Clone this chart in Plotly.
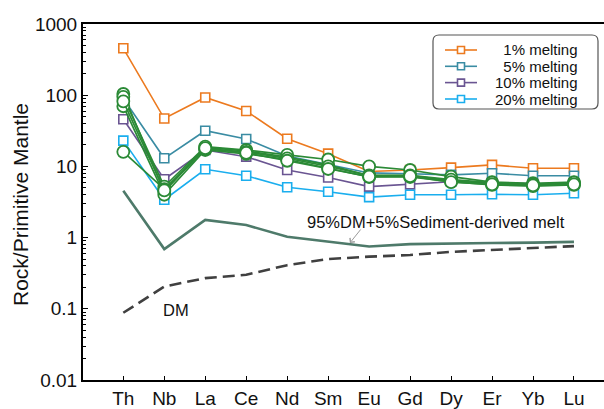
import numpy as np
import plotly.graph_objects as go

# Trace elements along the x axis
elements = ["Th", "Nb", "La", "Ce", "Nd", "Sm", "Eu", "Gd", "Dy", "Er", "Yb", "Lu"]

# Modelled melts (normalised to primitive mantle)
melt_1 = [456, 47, 93, 60, 24.5, 15.1, 8.5, 8.9, 9.6, 10.5, 9.4, 9.4]
melt_5 = [90, 13, 31.7, 24.3, 14, 10.6, 8.1, 7.9, 7.6, 8.0, 7.4, 7.4]
melt_10 = [46, 6.6, 17, 13.7, 8.9, 7.0, 5.2, 5.6, 6.1, 5.9, 5.7, 5.8]
melt_20 = [23, 3.4, 9.1, 7.4, 5.1, 4.4, 3.7, 4.0, 4.0, 4.06, 4.0, 4.2]

# Samples
sample_a = [104, 4.4, 18.5, 16.5, 13.5, 10.5, 7.4, 7.4, 6.3, 5.7, 5.5, 5.7]
sample_b = [95, 5.2, 19, 17, 14.5, 12.5, 10.0, 8.9, 7.2, 6.0, 5.8, 6.0]
sample_c = [70, 4.0, 17, 15, 12.5, 9.5, 7.1, 7.1, 6.1, 5.5, 5.3, 5.5]
sample_d = [16, 4.8, 17.5, 16, 13, 10, 7.5, 7.5, 6.5, 5.9, 5.6, 5.9]
sample_e = [82, 4.6, 18, 15.5, 12, 9.2, 7.2, 7.3, 6.0, 5.6, 5.4, 5.6]

# Depleted mantle and the DM + sediment-melt mixture
dm = [0.088, 0.205, 0.27, 0.30, 0.41, 0.50, 0.54, 0.57, 0.63, 0.67, 0.72, 0.76]
dm_sed_mix = [4.56, 0.69, 1.77, 1.5, 1.03, 0.88, 0.75, 0.81, 0.83, 0.84, 0.85, 0.87]

y_tick_vals = [0.01, 0.1, 1, 10, 100, 1000]
y_tick_text = ["0.01", "0.1", "1", "10", "100", "1000"]

FONT = "Liberation Sans, Arial, sans-serif"

melt_series = [
    ("\u20071% melting", melt_1, "#EC7A1F"),
    ("\u20075% melting", melt_5, "#3A8CA3"),
    ("10% melting", melt_10, "#6A5592"),
    ("20% melting", melt_20, "#1AAEEE"),
]
samples = [sample_a, sample_b, sample_c, sample_d, sample_e]
GREEN = "#2B8A36"

fig = go.Figure()

fig.add_trace(go.Scatter(x=elements, y=dm, mode="lines",
                         line=dict(color="#404040", width=2.6, dash="12px,6px"),
                         showlegend=False))
fig.add_trace(go.Scatter(x=elements, y=dm_sed_mix, mode="lines",
                         line=dict(color="#4E7A6A", width=2.6),
                         showlegend=False))

for name, vals, col in melt_series:
    fig.add_trace(go.Scatter(x=elements, y=vals, mode="lines+markers", name=name,
                             line=dict(color=col, width=1.6),
                             marker=dict(symbol="square", size=9, color="white",
                                         line=dict(color=col, width=1.6)),
                             showlegend=False))

for vals in samples:
    fig.add_trace(go.Scatter(x=elements, y=vals, mode="lines+markers",
                             line=dict(color=GREEN, width=1.7),
                             marker=dict(symbol="circle", size=12, color="white",
                                         line=dict(color=GREEN, width=1.8)),
                             showlegend=False))

# plot area in pixels: x 83..604, y 24..380
L, R, T, B = 83, 604, 24, 380
W, H = 604, 409


def px(x):
    return (x - L) / (R - L)


def py(y):
    return (B - y) / (B - T)


shapes = []
annotations = []

# legend box with rounded corners
bx0, bx1, by0, by1, rr = px(433), px(598), py(35), py(109), 6
rx, ry = rr / (R - L), rr / (B - T)
path = (f"M{bx0 + rx},{by0} L{bx1 - rx},{by0} Q{bx1},{by0} {bx1},{by0 - ry} "
        f"L{bx1},{by1 + ry} Q{bx1},{by1} {bx1 - rx},{by1} L{bx0 + rx},{by1} "
        f"Q{bx0},{by1} {bx0},{by1 + ry} L{bx0},{by0 - ry} Q{bx0},{by0} {bx0 + rx},{by0} Z")
shapes.append(dict(type="path", path=path, xref="paper", yref="paper",
                   line=dict(color="#555555", width=1.2), fillcolor="white", layer="above"))

row_y = [50, 66.3, 82.6, 99]
for (name, _, col), ry_ in zip(melt_series, row_y):
    shapes.append(dict(type="line", xref="paper", yref="paper",
                       x0=px(445), x1=px(477), y0=py(ry_), y1=py(ry_),
                       line=dict(color=col, width=1.6), layer="above"))
    shapes.append(dict(type="rect", xref="paper", yref="paper",
                       xsizemode="pixel", ysizemode="pixel",
                       xanchor=px(461), yanchor=py(ry_),
                       x0=-3.5, x1=3.5, y0=-3.5, y1=3.5,
                       fillcolor="white", line=dict(color=col, width=1.6), layer="above"))
    annotations.append(dict(xref="paper", yref="paper", x=px(580), y=py(ry_),
                            text=name, showarrow=False, xanchor="right", yanchor="middle",
                            font=dict(family=FONT, size=15, color="#111111")))

# curve labels
annotations.append(dict(x=7.63, y=np.log10(1.63), xref="x", yref="y",
                        text="95%DM+5%Sediment-derived melt", showarrow=False,
                        font=dict(family=FONT, size=16.5, color="#111111")))
annotations.append(dict(x=5.53, y=np.log10(0.84), xref="x", yref="y", text="",
                        showarrow=True, arrowhead=4, arrowsize=1.2, arrowwidth=1,
                        arrowcolor="#9a9a9a", ax=12, ay=-15))
annotations.append(dict(x=1.29, y=np.log10(0.096), xref="x", yref="y", text="DM",
                        showarrow=False, font=dict(family=FONT, size=16.5, color="#111111")))
annotations.append(dict(xref="paper", yref="paper", x=px(20), y=py(205),
                        text="Rock/Primitive Mantle", textangle=-90, showarrow=False,
                        xanchor="center", yanchor="middle",
                        font=dict(family=FONT, size=21, color="#111111")))

minor_vals = [m * 10.0 ** e for e in range(-2, 3) for m in range(2, 10)]

fig.update_layout(
    width=W, height=H,
    margin=dict(l=L, r=W - R, t=T, b=H - B),
    plot_bgcolor="white", paper_bgcolor="white",
    font=dict(family=FONT, color="#111111"),
    shapes=shapes, annotations=annotations,
    showlegend=False,
    xaxis=dict(type="category", range=[-0.984, 11.733], showgrid=False, zeroline=False,
               showline=True, linecolor="black", linewidth=2, mirror=True,
               ticks="inside", ticklen=4, tickwidth=1.2, tickcolor="black",
               tickfont=dict(size=19, family=FONT, color="#111111")),
    yaxis=dict(type="log", range=[-2, 3], showgrid=False, zeroline=False,
               showline=True, linecolor="black", linewidth=2, mirror=False,
               tickvals=y_tick_vals, ticktext=y_tick_text,
               ticks="inside", ticklen=5, tickwidth=1.2, tickcolor="black",
               tickfont=dict(size=19, family=FONT, color="#111111"),
               minor=dict(tickvals=minor_vals, ticks="inside", ticklen=3,
                          tickwidth=1, tickcolor="black")),
)

fig.write_html("out.html")
